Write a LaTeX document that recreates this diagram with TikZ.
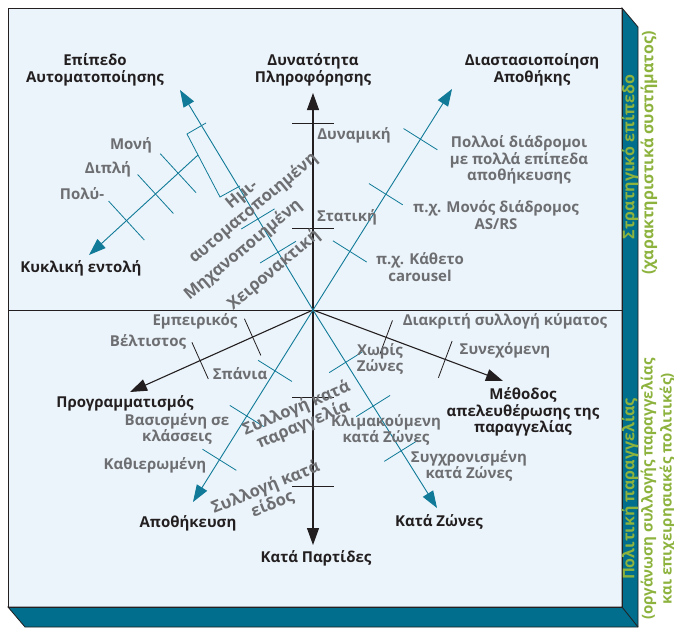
\documentclass[tikz,border=0pt]{standalone}
\usepackage{fontspec}
\setmainfont{Open Sans}
\usetikzlibrary{arrows.meta}
\definecolor{face}{RGB}{235,244,250}
\definecolor{panel}{RGB}{0,110,140}
\definecolor{teal}{RGB}{16,122,152}
\definecolor{ink}{RGB}{35,31,32}
\definecolor{greytext}{RGB}{109,110,113}
\definecolor{olive}{RGB}{141,179,62}
\tikzset{
  lbl/.style={font=\bfseries\fontsize{15}{16.5}\selectfont, text=ink, align=center, inner sep=0pt},
  sub/.style={lbl, text=greytext},
  tilted/.style={sub, font=\bfseries\fontsize{16.5}{18}\selectfont, rotate=#1},
  side/.style={lbl, text=olive, rotate=90, font=\bfseries\fontsize{16}{19}\selectfont},
  blackaxis/.style={draw=ink, line width=1.1pt, -{Triangle[length=17pt,width=12pt]}},
  blueaxis/.style={draw=teal, line width=.9pt, -{Triangle[length=17pt,width=12pt]}},
  tk/.style={sloped, inner sep=0pt, minimum width=0pt, minimum height=#1},
  tk/.default=39pt,
  blacktick/.style={draw=ink, line width=.8pt},
  bluetick/.style={draw=teal, line width=.8pt}
}
\begin{document}
\begin{tikzpicture}[x=1pt,y=-1pt]
        \useasboundingbox (0,0) rectangle (674,627);
        % box
        \fill[face] (8,8) rectangle (622,607);
        \filldraw[fill=panel, draw=ink, line width=.8pt] (622,8) -- (638,27) -- (638,627) -- (25,627) -- (8,607) -- (622,607) -- cycle;
        \draw[ink, line width=.8pt] (8,8) rectangle (622,607);
        \draw[ink, line width=.8pt] (622,607) -- (638,627);
        \draw[ink, line width=.8pt] (8,310) -- (622,310);
        \node (strat) [side] at (630,157) {Στρατηγικό επίπεδο};
        \node (stratsub) [side] at (649,153) {(χαρακτηριστικά συστήματος)};
        \node (policy) [side] at (630,489) {Πολιτική παραγγελίας};
        \node (policysub) [side, font=\bfseries\fontsize{15}{19}\selectfont] at (658,489) {(οργάνωση συλλογής παραγγελίας\\και επιχειρησιακές πολιτικές)};

        \coordinate (O) at (313,310);
        \coordinate (info) at (313,93);
        \coordinate (batch) at (313,545);
        \coordinate (sched) at (130,392);
        \coordinate (release) at (503,381);
        \coordinate (dim) at (452,89);
        \coordinate (auto) at (180,90);
        \coordinate (store) at (193,502);
        \coordinate (zone) at (437,508);
        \coordinate (b1) at (206,123);
        \coordinate (b2) at (187,134);
        \coordinate (b3) at (220,197);
        \coordinate (b4) at (240,186);
        \coordinate (cyc0) at (198,155);
        \coordinate (cyc) at (89,255);

        % axes
        \draw[blackaxis] (O) -- (info) node[tk=40pt, pos=.378] (i1) {} node[tk=40pt, pos=.862] (i2) {};
        \draw[blackaxis] (O) -- (batch) node[tk=40pt, pos=.374] (p1) {} node[tk=40pt, pos=.749] (p2) {};
        \draw[blackaxis] (O) -- (sched) node[tk, pos=.33] (s1) {} node[tk, pos=.617] (s2) {};
        \draw[blackaxis] (O) -- (release) node[tk=35pt, pos=.385] (r1) {} node[tk=38pt, pos=.696] (r2) {};
        \draw[blueaxis] (O) -- (dim) node[tk, pos=.265] (d1) {} node[tk, pos=.524] (d2) {} node[tk, pos=.773] (d3) {};
        \draw[blueaxis] (O) -- (auto) node[tk=41pt, pos=.263] (a1) {} node[tk=38pt, pos=.414] (a2) {};
        \draw[blueaxis] (O) -- (store) node[tk, pos=.317] (w1) {} node[tk, pos=.552] (w2) {} node[tk, pos=.78] (w3) {};
        \draw[blueaxis] (O) -- (zone) node[tk=38pt, pos=.264] (z1) {} node[tk, pos=.485] (z2) {} node[tk, pos=.711] (z3) {};
        \draw[bluetick] (b1) -- (b2) -- (b3) -- (b4);
        \draw[blueaxis] (cyc0) -- (cyc) node[tk=52pt, pos=.182] (c1) {} node[tk=52pt, pos=.39] (c2) {} node[tk=52pt, pos=.656] (c3) {};

        % ticks
        \draw[blacktick] (i1.north) -- (i1.south) (i2.north) -- (i2.south);
        \draw[blacktick] (p1.north) -- (p1.south) (p2.north) -- (p2.south);
        \draw[blacktick] (s1.north) -- (s1.south) (s2.north) -- (s2.south);
        \draw[blacktick] (r1.north) -- (r1.south) (r2.north) -- (r2.south);
        \draw[bluetick] (d1.north) -- (d1.south) (d2.north) -- (d2.south) (d3.north) -- (d3.south);
        \draw[bluetick] (a1.north) -- (a1.south) (a2.north) -- (a2.south);
        \draw[bluetick] (w1.north) -- (w1.south) (w2.north) -- (w2.south) (w3.north) -- (w3.south);
        \draw[bluetick] (z1.north) -- (z1.south) (z2.north) -- (z2.south) (z3.north) -- (z3.south);
        \draw[bluetick] (c1.north) -- (c1.south) (c2.north) -- (c2.south) (c3.north) -- (c3.south);

        % axis titles
        \node (autoL) [lbl] at (95,70) {Επίπεδο\\Αυτοματοποίησης};
        \node (infoL) [lbl] at (313,70) {Δυνατότητα\\Πληροφόρησης};
        \node (dimL) [lbl] at (532,70) {Διαστασιοποίηση\\Αποθήκης};
        \node (cycL) [lbl] at (81,268) {Κυκλική εντολή};
        \node (schedL) [lbl] at (125,403) {Προγραμματισμός};
        \node (releaseL) [lbl] at (523,412) {Μέθοδος\\απελευθέρωσης της\\παραγγελίας};
        \node (storeL) [lbl] at (188,523) {Αποθήκευση};
        \node (batchL) [lbl] at (316,558) {Κατά Παρτίδες};
        \node (zoneL) [lbl] at (439,522) {Κατά Ζώνες};

        % values
        \node (single) [sub] at (131,145) {Μονή};
        \node (double) [sub] at (108,169) {Διπλή};
        \node (multi) [sub] at (82,194) {Πολύ-};
        \node (semi) [tilted=40] at (248,202) {Ημι-\\αυτοματοποιημένη};
        \node (mech) [tilted=40] at (243,250) {Μηχανοποιημένη};
        \node (manual) [tilted=40] at (274,270) {Χειρονακτική};
        \node (dynamic) [sub] at (354,135) {Δυναμική};
        \node (static) [sub] at (347,217) {Στατική};
        \node (many) [sub] at (519,160) {Πολλοί διάδρομοι\\με πολλά επίπεδα\\αποθήκευσης};
        \node (asrs) [sub] at (496,215) {π.χ. Μονός διάδρομος\\AS/RS};
        \node (carousel) [sub] at (420,267) {π.χ. Κάθετο\\carousel};
        \node (empir) [sub] at (195,321) {Εμπειρικός};
        \node (optim) [sub] at (148,342) {Βέλτιστος};
        \node (rare) [sub] at (240,374) {Σπάνια};
        \node (classb) [sub] at (177,429) {Βασισμένη σε\\κλάσσεις};
        \node (fixed) [sub] at (155,465) {Καθιερωμένη};
        \node (perorder) [tilted=23] at (300,417) {Συλλογή κατά\\παραγγελία};
        \node (peritem) [tilted=22] at (269,496) {Συλλογή κατά\\είδος};
        \node (wave) [sub] at (505,321) {Διακριτή συλλογή κύματος};
        \node (contin) [sub] at (505,350) {Συνεχόμενη};
        \node (nozone) [sub] at (380,359) {Χωρίς\\Ζώνες};
        \node (progzone) [sub] at (386,430) {Κλιμακούμενη\\κατά Ζώνες};
        \node (synczone) [sub] at (469,466) {Συγχρονισμένη\\κατά Ζώνες};
\end{tikzpicture}
\end{document}
